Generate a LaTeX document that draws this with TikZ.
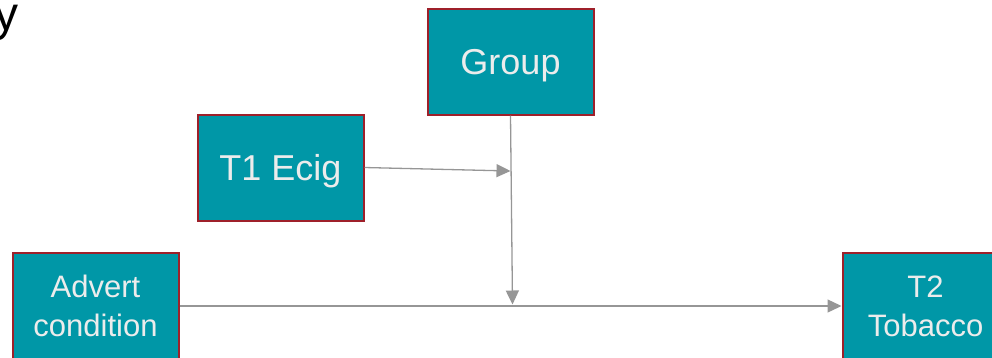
\documentclass[tikz,border=0pt]{standalone}
\usepackage{fontspec}
\setmainfont{Liberation Sans}
\usetikzlibrary{arrows.meta}
\definecolor{boxfill}{RGB}{0,151,167}
\definecolor{boxline}{RGB}{158,32,42}
\definecolor{boxtext}{RGB}{236,236,236}
\definecolor{linkgray}{RGB}{150,150,150}
\begin{document}
\begin{tikzpicture}[x=1pt,y=-1pt,
  var/.style={draw=boxline, line width=2pt, fill=boxfill, text=boxtext,
    minimum width=166pt, minimum height=106pt, inner sep=0pt, align=center},
  oneline/.style={font=\fontsize{36}{43}\selectfont, text depth=0pt},
  twoline/.style={font=\fontsize{31}{39}\selectfont},
  link/.style={draw=linkgray, line width=1.3pt,
    -{Triangle[length=14pt,width=13pt]}}]
\useasboundingbox (0,0) rectangle (992,357);

% title fragment at the top-left edge
\node[anchor=base east, inner sep=0pt, font=\fontsize{48}{56}\selectfont] (title) at (19,30) {y};

% variables
\node[var, oneline] (group) at (510.5,61.5) {Group};
\node[var, oneline] (ecig) at (280.5,167.5) {T1 Ecig};
\node[var, twoline] (advert) at (95.5,306) {Advert\\condition};
\node[var, twoline] (tobacco) at (925.5,306) {T2\\Tobacco};

% moderation points on the paths
\coordinate (mod1) at (510.5,171);
\coordinate (mod2) at (512.5,304.5);

% connectors
\draw[link] (ecig.east) -- (mod1);
\draw[link] (group.south) -- (mod2);
\draw[link] (advert.east) -- (tobacco.west);
\end{tikzpicture}
\end{document}
